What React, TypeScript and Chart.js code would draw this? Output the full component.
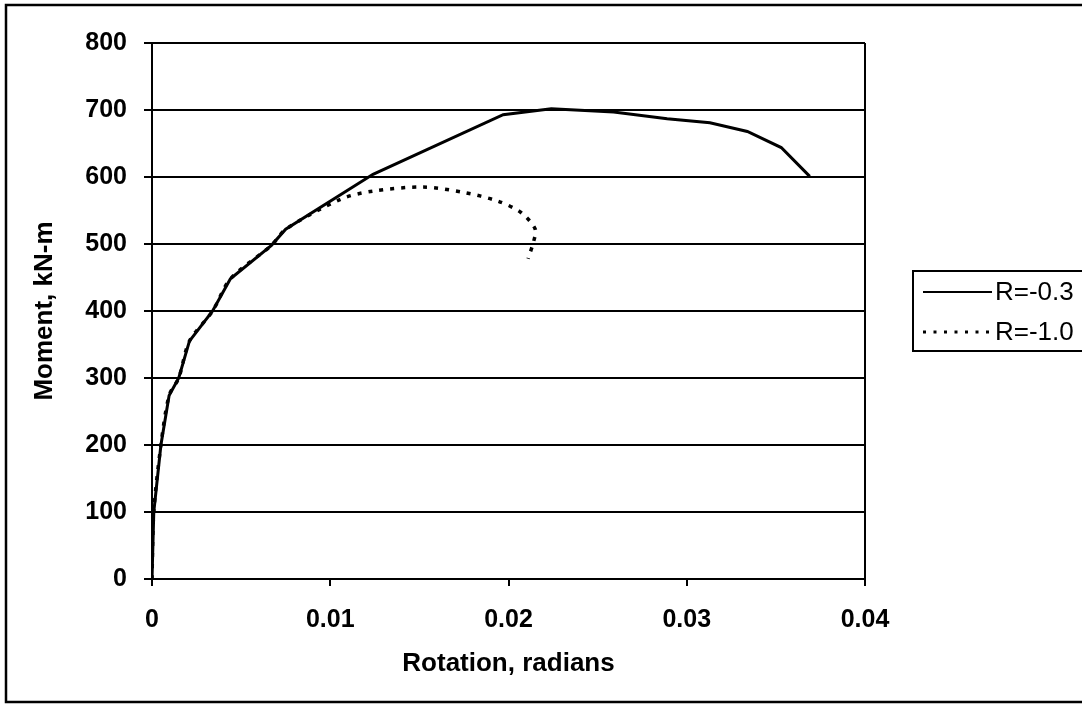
import React, { useEffect, useRef } from "react";
import { Chart, registerables } from "chart.js";

Chart.register(...registerables);

const seriesNames = ["R=-0.3", "R=-1.0"];
const rotationA = [0, 0.0001, 0.0005, 0.00096, 0.0015, 0.0021, 0.0034, 0.0044, 0.0067, 0.0075, 0.0124, 0.0197, 0.0224, 0.0259, 0.0289, 0.0313, 0.0334, 0.0353, 0.0369];
const momentA = [0, 100, 200, 274, 300, 355, 400, 448, 498, 522, 604, 693, 702, 697, 687, 681, 668, 644, 601];
const rotationB = [0, 0.0001, 0.0005, 0.00096, 0.0015, 0.0021, 0.0034, 0.0044, 0.0067, 0.0075, 0.0106, 0.0124, 0.0152, 0.0175, 0.0194, 0.0207, 0.0215, 0.0214, 0.0211];
const momentB = [0, 100, 200, 274, 300, 355, 400, 448, 498, 522, 567, 579, 585, 577, 564, 547, 522, 503, 478];
const xTicks = [0, 0.01, 0.02, 0.03, 0.04];
const yTicks = [0, 100, 200, 300, 400, 500, 600, 700, 800];

const FONT = "'Liberation Sans', Arial, sans-serif";

const framePlugin = {
  id: "frameAndLegend",
  afterDraw(chart: any) {
    const ctx = chart.ctx;
    const ca = chart.chartArea;
    ctx.save();
    ctx.strokeStyle = "#000";
    ctx.lineWidth = 2.5;
    ctx.strokeRect(6, 5, 1100, 697);
    ctx.lineWidth = 2;
    ctx.beginPath();
    ctx.moveTo(ca.right, ca.top);
    ctx.lineTo(ca.right, ca.bottom);
    ctx.stroke();
    const bx = ca.right + 48;
    const cy = (ca.top + ca.bottom) / 2;
    const by = cy - 40;
    ctx.lineWidth = 2;
    ctx.strokeRect(bx, by, 200, 80);
    ctx.font = `26px ${FONT}`;
    ctx.fillStyle = "#000";
    ctx.textBaseline = "middle";
    chart.data.datasets.forEach((ds: any, i: number) => {
      const yy = by + 21 + i * 40;
      ctx.beginPath();
      ctx.lineWidth = i === 0 ? 2 : 3;
      ctx.setLineDash(i === 0 ? [] : [3, 7.5]);
      ctx.moveTo(bx + 10, yy);
      ctx.lineTo(bx + 79, yy);
      ctx.stroke();
      ctx.setLineDash([]);
      ctx.fillText(ds.label, bx + 82, yy + 1);
    });
    ctx.restore();
  },
};

export default function App() {
  const ref = useRef<HTMLCanvasElement | null>(null);
  useEffect(() => {
    if (!ref.current) return;
    const chart = new Chart(ref.current, {
      type: "scatter",
      data: {
        datasets: [
          {
            label: seriesNames[0],
            data: rotationA.map((x, i) => ({ x, y: momentA[i] })),
            showLine: true,
            borderColor: "#000",
            borderWidth: 3,
            pointRadius: 0,
            tension: 0,
          },
          {
            label: seriesNames[1],
            data: rotationB.map((x, i) => ({ x, y: momentB[i] })),
            showLine: true,
            borderColor: "#000",
            borderWidth: 3.5,
            borderDash: [4, 7],
            pointRadius: 0,
            tension: 0.3,
          },
        ],
      },
      options: {
        animation: false,
        responsive: false,
        layout: { padding: { left: 29, top: 43, right: 217, bottom: 28 } },
        plugins: { legend: { display: false }, tooltip: { enabled: false } },
        scales: {
          x: {
            type: "linear",
            min: 0,
            max: 0.04,
            afterFit: (s: any) => { s.height = 707 - 579 - 28; },
            afterBuildTicks: (s: any) => { s.ticks = xTicks.map((v) => ({ value: v })); },
            ticks: {
              color: "#000",
              font: { family: FONT, size: 25, weight: "bold" },
              padding: 19,
              callback: (v: any) => String(v),
              maxRotation: 0,
            },
            grid: { drawOnChartArea: false, drawTicks: true, tickLength: 7, color: "#000", lineWidth: 2 },
            border: { color: "#000", width: 2 },
            title: {
              display: true,
              text: "Rotation, radians",
              color: "#000",
              font: { family: FONT, size: 26, weight: "bold" },
              padding: { top: 0, bottom: 0 },
            },
          },
          y: {
            type: "linear",
            min: 0,
            max: 800,
            afterFit: (s: any) => { s.width = 152 - 29; },
            afterBuildTicks: (s: any) => { s.ticks = yTicks.map((v) => ({ value: v })); },
            ticks: {
              color: "#000",
              font: { family: FONT, size: 25, weight: "bold" },
              padding: 17,
            },
            grid: { color: "#000", lineWidth: 2, tickLength: 8 },
            border: { color: "#000", width: 2 },
            title: {
              display: true,
              text: "Moment, kN-m",
              color: "#000",
              font: { family: FONT, size: 26, weight: "bold" },
              padding: { top: 0, bottom: 0 },
            },
          },
        },
      },
      plugins: [framePlugin],
    });
    return () => chart.destroy();
  }, []);
  return (
    <div style={{ position: "fixed", left: 0, top: 0, width: 1082, height: 707, background: "#fff" }}>
      <canvas ref={ref} width={1082} height={707} style={{ display: "block" }} />
    </div>
  );
}
